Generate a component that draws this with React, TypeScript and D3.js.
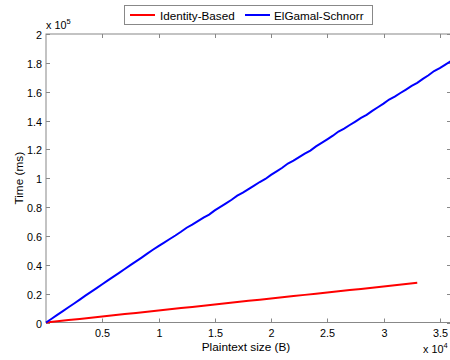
import { useEffect, useRef } from 'react';
import * as d3 from 'd3';

// plaintext sizes (bytes) and timings (ms)
const sizesBlue = d3.range(0, 36500, 500);
const elgamal = [
  0, 2600, 5300, 7900, 10600, 13200, 15900, 18600, 21200, 23800,
  26500, 29200, 31800, 34400, 37100, 39800, 42400, 45000, 47700, 50400,
  53000, 55400, 57900, 60300, 62900, 65700, 67800, 70300, 72700, 74800,
  77700, 80100, 82600, 85100, 87900, 90000, 92500, 94900, 97400, 99500,
  102300, 104800, 107300, 110200, 112200, 114700, 117100, 119200, 122100, 124500,
  127000, 129500, 132400, 134400, 136900, 139300, 141800, 143900, 146700, 149200,
  151700, 154600, 156600, 159100, 161500, 164000, 166100, 168900, 171400, 174300,
  176300, 178800, 181300,
];
const sizesRed = d3.range(0, 34000, 1000);
const identity = [
  0, 850, 1700, 2500, 3350, 4150, 5000, 5850, 6650, 7500,
  8350, 9200, 10000, 10800, 11650, 12500, 13350, 14150, 15000, 15850,
  16650, 17500, 18350, 19150, 20000, 20850, 21650, 22500, 23300, 24150,
  25000, 25850, 26650, 27500,
];
const xTicks = [5000, 10000, 15000, 20000, 25000, 30000, 35000];
const yTicks = [0, 20000, 40000, 60000, 80000, 100000, 120000, 140000, 160000, 180000, 200000];
const seriesNames = ['Identity-Based', 'ElGamal-Schnorr'];
const seriesColors = ['#ff0000', '#0000ff'];

export default function App() {
  const svgRef = useRef<SVGSVGElement | null>(null);

  useEffect(() => {
    if (!svgRef.current) return;
    const svg = d3.select(svgRef.current);
    svg.selectAll('*').remove();
    const font = 'Helvetica, Arial, "Liberation Sans", sans-serif';
    const left = 46, right = 451, top = 34, bottom = 322.5;

    const x = d3.scaleLinear().domain([0, 36000]).range([left, right]);
    const y = d3.scaleLinear().domain([0, 200000]).range([bottom, top]);
    const axisColor = '#888';

    // box
    svg.append('rect')
      .attr('x', left).attr('y', top)
      .attr('width', right - left).attr('height', bottom - top)
      .attr('fill', 'none').attr('stroke', axisColor).attr('stroke-width', 1);

    const tickLen = 4;
    xTicks.forEach(t => {
      const px = Math.round(x(t)) + 0.5;
      svg.append('line').attr('x1', px).attr('x2', px).attr('y1', bottom).attr('y2', bottom - tickLen).attr('stroke', axisColor);
      svg.append('line').attr('x1', px).attr('x2', px).attr('y1', top).attr('y2', top + tickLen).attr('stroke', axisColor);
      svg.append('text').attr('x', px).attr('y', bottom + 14)
        .attr('text-anchor', 'middle').attr('font-family', font).attr('font-size', 10.8)
        .text(d3.format('')(t / 10000));
    });
    yTicks.forEach(t => {
      const py = Math.round(y(t)) + 0.5;
      svg.append('line').attr('x1', left).attr('x2', left + tickLen).attr('y1', py).attr('y2', py).attr('stroke', axisColor);
      svg.append('line').attr('x1', right).attr('x2', right - tickLen).attr('y1', py).attr('y2', py).attr('stroke', axisColor);
      svg.append('text').attr('x', left - 4).attr('y', py + 4)
        .attr('text-anchor', 'end').attr('font-family', font).attr('font-size', 10.8)
        .text(d3.format('')(t / 100000));
    });

    // exponent labels
    const e5 = svg.append('text').attr('x', left).attr('y', 29).attr('font-family', font).attr('font-size', 10.8);
    e5.append('tspan').text('x 10');
    e5.append('tspan').attr('dy', -5).attr('font-size', 7.5).text('5');
    const e4 = svg.append('text').attr('x', 423).attr('y', 353).attr('font-family', font).attr('font-size', 10.8);
    e4.append('tspan').text('x 10');
    e4.append('tspan').attr('dy', -5).attr('font-size', 7.5).text('4');

    // axis titles
    svg.append('text').attr('x', 246).attr('y', 351).attr('text-anchor', 'middle')
      .attr('font-family', font).attr('font-size', 11.8).text('Plaintext size (B)');
    svg.append('text').attr('transform', `translate(22.5,${(top + bottom) / 2}) rotate(-90)`)
      .attr('text-anchor', 'middle').attr('font-family', font).attr('font-size', 11.8).text('Time (ms)');

    // lines
    const line = d3.line<[number, number]>().x(d => x(d[0])).y(d => y(d[1]));
    const red = sizesRed.map((s, i) => [s, identity[i]] as [number, number]);
    const blue = sizesBlue.map((s, i) => [s, elgamal[i]] as [number, number]);
    svg.append('path').datum(red).attr('d', line).attr('fill', 'none')
      .attr('stroke', seriesColors[0]).attr('stroke-width', 2);
    svg.append('path').datum(blue).attr('d', line).attr('fill', 'none')
      .attr('stroke', seriesColors[1]).attr('stroke-width', 2);

    // legend
    const lg = svg.append('g');
    lg.append('rect').attr('x', 124.5).attr('y', 5.5).attr('width', 248).attr('height', 19)
      .attr('fill', '#fff').attr('stroke', axisColor);
    const items = [{ x0: 130, tx: 160 }, { x0: 245, tx: 274 }];
    seriesNames.forEach((name, i) => {
      lg.append('line').attr('x1', items[i].x0).attr('x2', items[i].x0 + 25)
        .attr('y1', 15).attr('y2', 15).attr('stroke', seriesColors[i]).attr('stroke-width', 2);
      lg.append('text').attr('x', items[i].tx).attr('y', 19.5)
        .attr('font-family', font).attr('font-size', 11.7).text(name);
    });
  }, []);

  return <svg ref={svgRef} width={450} height={360} style={{ position: 'absolute', left: 0, top: 0, background: '#fff' }} />;
}
